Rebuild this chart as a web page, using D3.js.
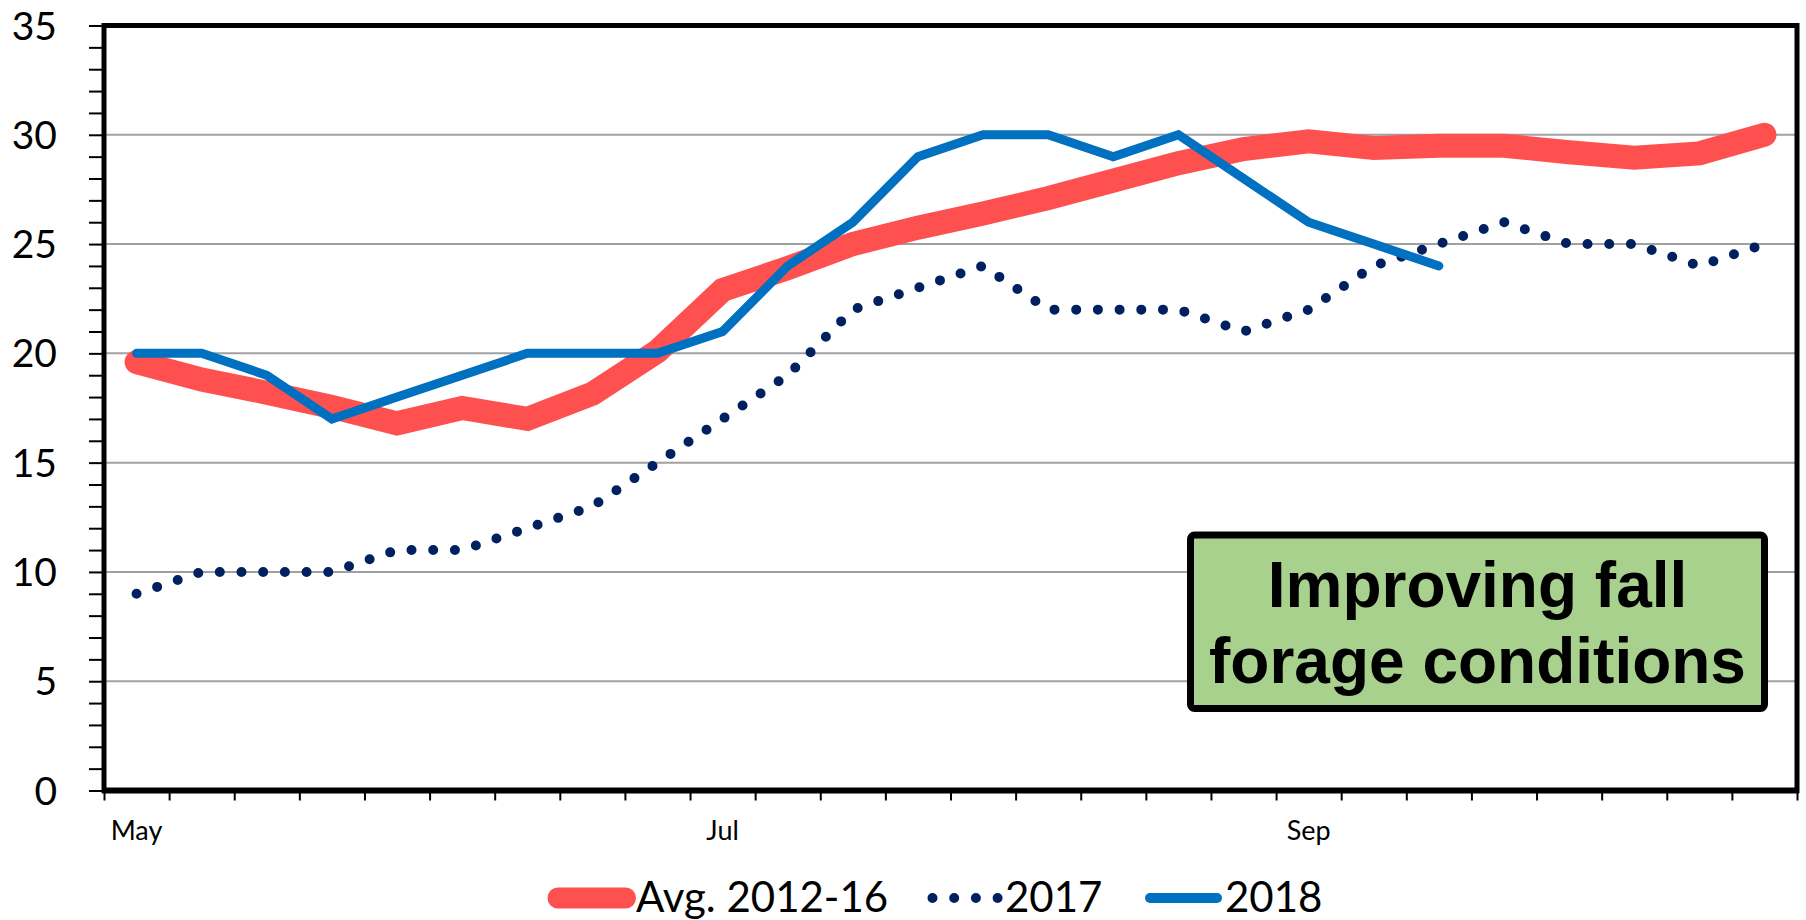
<!DOCTYPE html>
<html lang="en">
<head>
    <meta charset="utf-8">
    <title>Forage conditions</title>
    <script src="https://d3js.org/d3.v7.min.js"></script>
    <style>
        body { margin: 0; background: #fff; }
        svg { display: block; }
        .ylab { font-family: Lato, sans-serif; font-size: 39px; fill: #000; }
        .xlab { font-family: Lato, sans-serif; font-size: 27px; fill: #000; }
        .legend-text { font-family: Lato, sans-serif; font-size: 42px; fill: #000; }
        .note { font-family: "Liberation Sans", Arial, sans-serif; font-weight: bold; font-size: 64px; fill: #000; }
    </style>
</head>
<body>
    <div id="chart"></div>
    <script>
        // Weekly categories, labelled every ~9 weeks
        const weeks = ["May", "", "", "", "", "", "", "", "", "Jul", "", "", "", "", "", "", "", "",
                       "Sep", "", "", "", "", "", "", ""];

        const avg = [19.6, 18.8, 18.2, 17.55, 16.8, 17.5, 17.0, 18.15, 20.1, 22.9, 23.9, 25.0, 25.75,
                     26.4, 27.1, 27.9, 28.7, 29.35, 29.7, 29.4, 29.5, 29.5, 29.2, 28.95, 29.15, 30.0];
        const y2017 = [9, 10, 10, 10, 11, 11, 12, 13, 15, 17, 19, 22, 23, 24, 22, 22, 22, 21, 22, 24,
                       25, 26, 25, 25, 24, 25];
        const y2018 = [20, 20, 19, 17, 18, 19, 20, 20, 20, 21, 24, 26, 29, 30, 30, 29, 30, 28, 26, 25, 24];

        const yTicks = [0, 5, 10, 15, 20, 25, 30, 35];

        const series = [
            { name: "Avg. 2012-16", values: avg, color: "#ff5050", width: 24, dash: null },
            { name: "2017", values: y2017, color: "#002060", width: 10, dash: "0 21.7" },
            { name: "2018", values: y2018, color: "#0070c0", width: 9, dash: null }
        ];

        const W = 1806, H = 920;
        const plot = { left: 104, right: 1797, top: 25.5, bottom: 790.5 };

        const svg = d3.select("#chart").append("svg")
            .attr("width", W)
            .attr("height", H);

        // band edges live on integer positions, points sit at i + 0.5
        const x = d3.scaleLinear().domain([0, weeks.length]).range([plot.left, plot.right]);
        const y = d3.scaleLinear().domain([0, 35]).range([plot.bottom, plot.top]);

        // gridlines
        svg.append("g")
            .selectAll("line")
            .data(yTicks.filter(d => d > 0 && d < 35))
            .join("line")
            .attr("x1", plot.left).attr("x2", plot.right)
            .attr("y1", d => y(d)).attr("y2", d => y(d))
            .attr("stroke", "#a0a0a0")
            .attr("stroke-width", 2);

        // y axis ticks (minor every 1)
        const yAxis = d3.axisLeft(y)
            .tickValues(d3.range(0, 36))
            .tickSize(15)
            .tickFormat("");
        const gy = svg.append("g")
            .attr("transform", `translate(${plot.left},0)`)
            .call(yAxis);
        gy.select(".domain").remove();
        gy.selectAll(".tick line").attr("stroke", "#000").attr("stroke-width", 2);

        svg.append("g")
            .selectAll("text")
            .data(yTicks)
            .join("text")
            .attr("class", "ylab")
            .attr("x", 57)
            .attr("y", d => y(d))
            .attr("dy", "0.36em")
            .attr("text-anchor", "end")
            .text(d => d);

        // x axis ticks at category boundaries
        const xAxis = d3.axisBottom(x)
            .tickValues(d3.range(0, weeks.length + 1))
            .tickSize(10)
            .tickFormat("");
        const gx = svg.append("g")
            .attr("transform", `translate(0,${plot.bottom})`)
            .call(xAxis);
        gx.select(".domain").remove();
        gx.selectAll(".tick line").attr("stroke", "#000").attr("stroke-width", 2);

        svg.append("g")
            .selectAll("text")
            .data(weeks.map((w, i) => ({ w, i })).filter(d => d.w !== ""))
            .join("text")
            .attr("class", "xlab")
            .attr("x", d => x(d.i + 0.5))
            .attr("y", 840)
            .attr("text-anchor", "middle")
            .text(d => d.w);

        // series lines
        const line = d3.line()
            .x((d, i) => x(i + 0.5))
            .y(d => y(d));

        svg.append("g")
            .selectAll("path")
            .data(series)
            .join("path")
            .attr("d", d => line(d.values))
            .attr("fill", "none")
            .attr("stroke", d => d.color)
            .attr("stroke-width", d => d.width)
            .attr("stroke-linecap", "round")
            .attr("stroke-linejoin", d => d.dash ? "round" : "miter")
            .attr("stroke-dasharray", d => d.dash);

        // plot frame
        svg.append("rect")
            .attr("x", plot.left).attr("y", plot.top)
            .attr("width", plot.right - plot.left)
            .attr("height", plot.bottom - plot.top)
            .attr("fill", "none")
            .attr("stroke", "#000")
            .attr("stroke-width", 5);
        svg.append("line")
            .attr("x1", plot.left - 2).attr("x2", plot.right + 2)
            .attr("y1", plot.bottom).attr("y2", plot.bottom)
            .attr("stroke", "#000")
            .attr("stroke-width", 6);

        // annotation box
        const note = svg.append("g");
        note.append("rect")
            .attr("x", 1190.5).attr("y", 535)
            .attr("width", 574).attr("height", 173.5)
            .attr("rx", 4)
            .attr("fill", "#a9d18e")
            .attr("stroke", "#000")
            .attr("stroke-width", 7);
        note.selectAll("text")
            .data(["Improving fall", "forage conditions"])
            .join("text")
            .attr("class", "note")
            .attr("x", 1477.5)
            .attr("y", (d, i) => 606.5 + i * 76)
            .attr("text-anchor", "middle")
            .text(d => d);

        // legend
        const legendItems = [
            { x1: 558, x2: 625.5, tx: 636, w: 21 },
            { x1: 932.5, x2: 999, tx: 1005, w: 10 },
            { x1: 1150, x2: 1217, tx: 1225, w: 10 }
        ];
        const lg = svg.append("g")
            .selectAll("g")
            .data(series)
            .join("g");
        lg.append("line")
            .attr("x1", (d, i) => legendItems[i].x1)
            .attr("x2", (d, i) => legendItems[i].x2)
            .attr("y1", 898).attr("y2", 898)
            .attr("stroke", d => d.color)
            .attr("stroke-width", (d, i) => legendItems[i].w)
            .attr("stroke-linecap", "round")
            .attr("stroke-dasharray", d => d.dash);
        lg.append("text")
            .attr("class", "legend-text")
            .attr("x", (d, i) => legendItems[i].tx)
            .attr("y", 912)
            .text(d => d.name);
    </script>
</body>
</html>
